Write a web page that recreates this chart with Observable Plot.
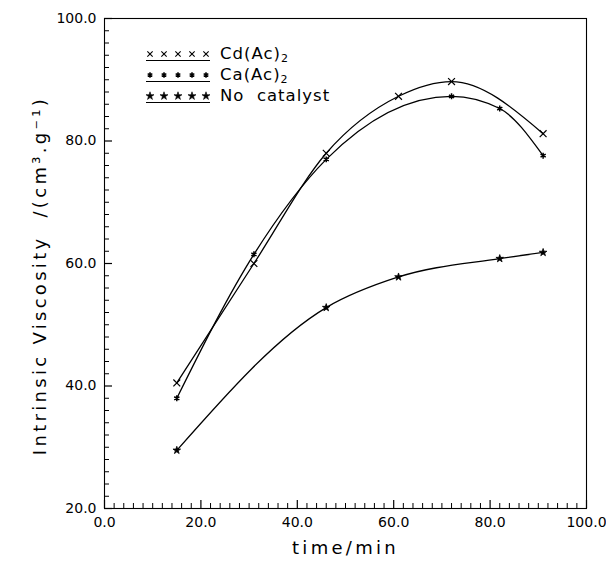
<!DOCTYPE html>
<html>
<head>
<meta charset="utf-8">
<script src="https://cdn.jsdelivr.net/npm/d3@7"></script>
<script src="https://cdn.jsdelivr.net/npm/@observablehq/plot@0.6"></script>
<style>
  html, body { margin: 0; padding: 0; background: white; }
  #chart { width: 606px; height: 573px; }
</style>
</head>
<body>
<div id="chart"></div>
<script>
// ---- data ----
const cdTime = [15, 31, 46, 61, 72, 91];
const cdVisc = [40.5, 60.0, 78.0, 87.3, 89.7, 81.2];
const caTime = [15, 31, 46, 72, 82, 91];
const caVisc = [38.0, 61.5, 77.0, 87.3, 85.3, 77.6];
const ncTime = [15, 46, 61, 82, 91];
const ncVisc = [29.5, 52.8, 57.8, 60.8, 61.8];

const seriesBase = ["Cd(Ac)", "Ca(Ac)", "No  catalyst"];
const seriesSub = ["2", "2", ""];
const xTicks = [0, 20, 40, 60, 80, 100];
const yTicks = [20, 40, 60, 80, 100];
const xTitle = "time/min";
const yTitle = "Intrinsic Viscosity  /(cm³.g⁻¹)";

const cd = cdTime.map((t, i) => ({t, v: cdVisc[i]}));
const ca = caTime.map((t, i) => ({t, v: caVisc[i]}));
const nc = ncTime.map((t, i) => ({t, v: ncVisc[i]}));

const W = 606, H = 573;
const mL = 104, mR = 20, mT = 18, mB = 65;
const fW = W - mL - mR, fH = H - mT - mB;
const xMinor = d3.range(0, 101, 2).filter(d => d % 20 !== 0);
const yMinor = d3.range(20, 101, 2).filter(d => d % 20 !== 0);
const fmt = d3.format(".1f");
const FONT = "DejaVu Sans";

const chart = Plot.plot({
  width: W, height: H,
  marginLeft: mL, marginRight: mR, marginTop: mT, marginBottom: mB,
  style: {fontFamily: FONT, fontSize: "14px", background: "white", color: "black"},
  x: {domain: [0, 100]},
  y: {domain: [20, 100]},
  marks: [
    Plot.frame({stroke: "black", strokeWidth: 1.1}),
    // inward ticks on the left axis
    Plot.tickY(yMinor, {y: d => d, insetRight: fW - 5, stroke: "black", strokeWidth: 1}),
    Plot.tickY(yTicks, {y: d => d, insetRight: fW - 8, stroke: "black", strokeWidth: 1.2}),
    // inward ticks on the bottom axis
    Plot.tickX(xMinor, {x: d => d, insetTop: fH - 5, stroke: "black", strokeWidth: 1}),
    Plot.tickX(xTicks, {x: d => d, insetTop: fH - 8, stroke: "black", strokeWidth: 1.2}),
    Plot.axisY({ticks: yTicks, tickFormat: fmt, tickSize: 0, tickPadding: 8, label: null}),
    Plot.axisX({ticks: xTicks, tickFormat: fmt, tickSize: 0, tickPadding: 9, label: null}),
    Plot.text([yTitle], {text: d => d, frameAnchor: "left", textAnchor: "middle", rotate: -90, dx: -64, dy: 12, fontSize: 18, lineAnchor: "middle"}),
    Plot.text([xTitle], {text: d => d, frameAnchor: "bottom", textAnchor: "middle", dy: 40, fontSize: 18, lineAnchor: "middle"}),
    // curves
    Plot.line(cd, {x: "t", y: "v", curve: "monotone-x", stroke: "black", strokeWidth: 1.3}),
    Plot.line(ca, {x: "t", y: "v", curve: "monotone-x", stroke: "black", strokeWidth: 1.3}),
    Plot.line(nc, {x: "t", y: "v", curve: "monotone-x", stroke: "black", strokeWidth: 1.3}),
    // markers
    Plot.dot(cd, {x: "t", y: "v", symbol: "times", r: 3.2, stroke: "black", strokeWidth: 1.2}),
    Plot.dot(ca, {x: "t", y: "v", symbol: "asterisk", r: 2.8, stroke: "black", strokeWidth: 1.5}),
    Plot.dot(nc, {x: "t", y: "v", symbol: "star", r: 2.4, fill: "black", stroke: "black", strokeWidth: 0.8})
  ]
});
document.getElementById("chart").appendChild(chart);

// letter spacing for the wide lettering of the titles
chart.querySelectorAll("text").forEach(t => {
  if (t.textContent === xTitle || t.textContent === yTitle) t.setAttribute("letter-spacing", "3.3");
});

// ---- legend (inside the frame, top-left) ----
const svg = d3.select(chart);
const lg = svg.append("g").attr("font-family", FONT).attr("fill", "black").attr("text-anchor", "start");
const legendSyms = [
  {type: d3.symbolTimes, size: 20, fill: "none", stroke: "black", sw: 1.1},
  {type: d3.symbolAsterisk, size: 20, fill: "none", stroke: "black", sw: 1.5},
  {type: d3.symbolStar, size: 20, fill: "black", stroke: "black", sw: 0.6}
];
const rowBase = [59, 80, 101];
seriesBase.forEach((name, i) => {
  const yb = rowBase[i];
  const s = legendSyms[i];
  for (let k = 0; k < 5; k++) {
    lg.append("path")
      .attr("d", d3.symbol(s.type, s.size)())
      .attr("transform", `translate(${150 + k * 14},${yb - 5})`)
      .attr("fill", s.fill).attr("stroke", s.stroke).attr("stroke-width", s.sw);
  }
  lg.append("line").attr("x1", 146).attr("x2", 210).attr("y1", yb + 1.5).attr("y2", yb + 1.5)
    .attr("stroke", "black").attr("stroke-width", 1.2);
  const tx = lg.append("text").attr("x", 220).attr("y", yb).attr("font-size", 16.5)
    .attr("text-anchor", "start").attr("letter-spacing", 1).style("white-space", "pre");
  tx.append("tspan").text(name);
  if (seriesSub[i]) tx.append("tspan").attr("font-size", 11).attr("dy", 3).text(seriesSub[i]);
});
</script>
</body>
</html>
